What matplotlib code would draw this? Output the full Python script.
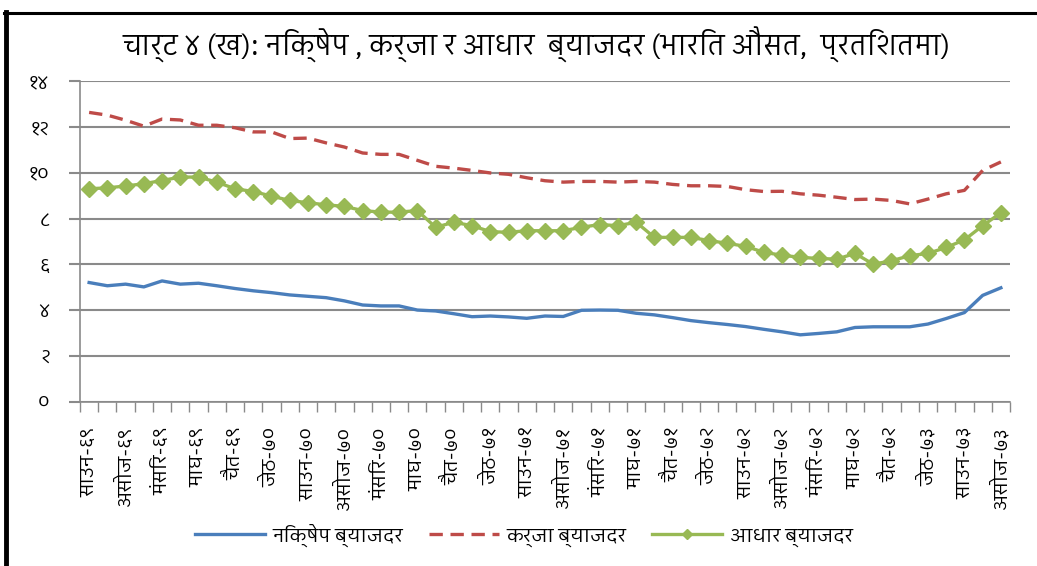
import numpy as np
import matplotlib
matplotlib.use('Agg')
import matplotlib.pyplot as plt
from matplotlib import font_manager
from matplotlib.ft2font import FT2Font
from matplotlib.lines import Line2D

# month labels (every 2nd category), Bikram Sambat months
tick_labels = ['साउन-६९', 'असोज-६९', 'मंसिर-६९', 'माघ-६९', 'चैत-६९', 'जेठ-७०',
               'साउन-७०', 'असोज-७०', 'मंसिर-७०', 'माघ-७०', 'चैत-७०', 'जेठ-७१',
               'साउन-७१', 'असोज-७१', 'मंसिर-७१', 'माघ-७१', 'चैत-७१', 'जेठ-७२',
               'साउन-७२', 'असोज-७२', 'मंसिर-७२', 'माघ-७२', 'चैत-७२', 'जेठ-७३',
               'साउन-७३', 'असोज-७३']

deposit = [5.21, 5.07, 5.14, 5.02, 5.28, 5.14, 5.18, 5.07, 4.95, 4.85,
           4.77, 4.67, 4.61, 4.55, 4.41, 4.23, 4.19, 4.19, 4.01, 3.97,
           3.85, 3.72, 3.75, 3.71, 3.65, 3.75, 3.73, 4.00, 4.01, 4.00,
           3.87, 3.80, 3.68, 3.55, 3.46, 3.38, 3.29, 3.17, 3.06, 2.93,
           2.99, 3.06, 3.25, 3.28, 3.28, 3.28, 3.40, 3.64, 3.90, 4.65,
           4.98]
lending = [12.63, 12.51, 12.29, 12.03, 12.34, 12.30, 12.07, 12.07, 11.96, 11.78,
           11.78, 11.49, 11.51, 11.30, 11.12, 10.86, 10.80, 10.80, 10.54, 10.28,
           10.20, 10.10, 9.99, 9.93, 9.78, 9.65, 9.59, 9.62, 9.62, 9.59,
           9.62, 9.59, 9.49, 9.43, 9.43, 9.40, 9.26, 9.18, 9.19, 9.08,
           9.02, 8.93, 8.83, 8.85, 8.79, 8.64, 8.85, 9.08, 9.23, 10.10,
           10.47]
base = [9.30, 9.34, 9.42, 9.52, 9.66, 9.81, 9.81, 9.59, 9.30, 9.18,
        8.98, 8.79, 8.69, 8.60, 8.53, 8.35, 8.28, 8.28, 8.35, 7.62,
        7.84, 7.69, 7.43, 7.40, 7.47, 7.47, 7.47, 7.62, 7.74, 7.69,
        7.84, 7.18, 7.18, 7.18, 7.04, 6.92, 6.79, 6.53, 6.40, 6.31,
        6.26, 6.23, 6.48, 6.01, 6.16, 6.38, 6.48, 6.74, 7.07, 7.69,
        8.25]

series_names = ['निक्षेप ब्याजदर', 'कर्जा ब्याजदर', 'आधार ब्याजदर']
title = 'चार्ट ४ (ख): निक्षेप , कर्जा र आधार  ब्याजदर (भारित औसत,  प्रतिशतमा)'
yticks = [0, 2, 4, 6, 8, 10, 12, 14]


def find_deva_font():
    # look for any installed font that has Devanagari glyphs
    found = []
    for fe in font_manager.fontManager.ttflist:
        try:
            cmap = FT2Font(fe.fname).get_charmap()
        except Exception:
            continue
        if 0x0915 in cmap and 0x0966 in cmap:
            found.append(fe)
    if not found:
        return None
    found.sort(key=lambda f: (f.weight != 400, 'Devanagari' not in f.name))
    return found[0].name


deva = find_deva_font()
fams = [deva, 'DejaVu Sans'] if deva else ['DejaVu Sans']
plt.rcParams['font.family'] = fams

digits = str.maketrans('0123456789', '०१२३४५६७८९')

fig = plt.figure(figsize=(10.37, 5.66), dpi=100)
ax = fig.add_axes([80 / 1037, 1 - 402 / 566, 930 / 1037, 321 / 566])

x = np.arange(len(deposit))
ax.plot(x, deposit, color='#4a7ebb', lw=2.4, label=series_names[0])
ax.plot(x, lending, color='#be4b48', lw=2.4, dashes=(4, 2.3), label=series_names[1])
ax.plot(x, base, color='#98b954', lw=2.4, marker='D', markersize=8,
        markeredgecolor='#98b954', label=series_names[2])

ax.set_xlim(-0.5, len(deposit) - 0.5)
ax.set_ylim(0, 14)
ax.set_yticks(yticks)
ax.set_yticklabels([str(v).translate(digits) for v in yticks], fontsize=14)
ax.yaxis.grid(True, color='#8a8a8a', lw=1.5)
ax.set_axisbelow(True)

ax.set_xticks(np.arange(-0.5, len(deposit), 1))
ax.set_xticklabels([])
ax.set_xticks(np.arange(0, len(deposit), 2), minor=True)
ax.set_xticklabels(tick_labels, minor=True, rotation=90, fontsize=14)
ax.tick_params(axis='x', which='major', length=7, color='#8a8a8a', width=1)
ax.tick_params(axis='x', which='minor', length=0, pad=18)
ax.tick_params(axis='y', length=8, color='#8a8a8a', width=1.5, pad=14)

for s in ['top', 'right']:
    ax.spines[s].set_visible(False)
for s in ['left', 'bottom']:
    ax.spines[s].set_color('#8a8a8a')
    ax.spines[s].set_linewidth(1.2)

fig.text(0.517, 1 - 45 / 566, title, ha='center', va='center', fontsize=20)

fig.legend(loc='center', bbox_to_anchor=(0.505, 0.055), ncol=3, frameon=False,
           fontsize=14, handlelength=3.6, handletextpad=0.4, columnspacing=1.3,
           markerscale=0.6)

# chart frame
fig.add_artist(Line2D([6 / 1037, 6 / 1037], [0, 1 - 12 / 566], color='black', lw=3.5,
                      transform=fig.transFigure))
fig.add_artist(Line2D([4 / 1037, 1], [1 - 12.5 / 566, 1 - 12.5 / 566], color='black', lw=2.2,
                      transform=fig.transFigure))

fig.savefig('out.png', dpi=100)
